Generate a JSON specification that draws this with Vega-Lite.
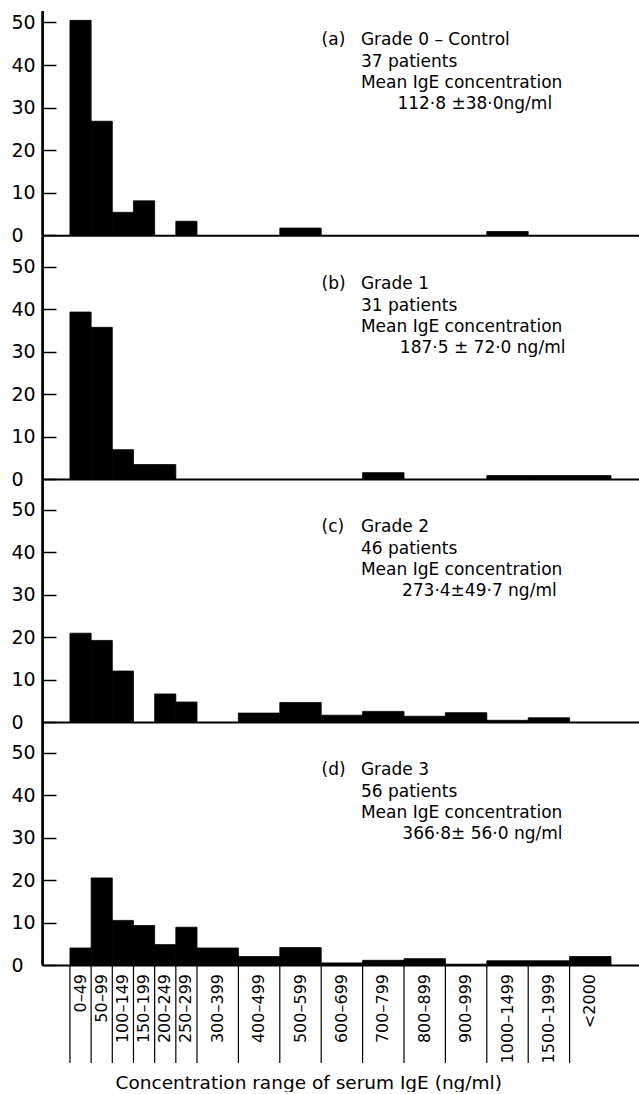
{
  "$schema": "https://vega.github.io/schema/vega-lite/v6.json",
  "padding": {"left": 11, "top": 10, "right": 0, "bottom": 0},
  "spacing": 0,
  "bounds": "flush",
  "config": {
    "view": {"stroke": null},
    "axis": {"grid": false},
    "text": {"font": "DejaVu Sans", "color": "black"}
  },
  "datasets": {
    "bins": [
      {"grade": "a", "range": "0–49", "lo": 0, "hi": 50, "pct": 50.5},
      {"grade": "a", "range": "50–99", "lo": 50, "hi": 100, "pct": 26.8},
      {"grade": "a", "range": "100–149", "lo": 100, "hi": 150, "pct": 5.4},
      {"grade": "a", "range": "150–199", "lo": 150, "hi": 200, "pct": 8.1},
      {"grade": "a", "range": "250–299", "lo": 250, "hi": 300, "pct": 3.3},
      {"grade": "a", "range": "500–599", "lo": 500, "hi": 600, "pct": 1.7},
      {"grade": "a", "range": "1000–1499", "lo": 1000, "hi": 1500, "pct": 0.9},
      {"grade": "b", "range": "0–49", "lo": 0, "hi": 50, "pct": 39.3},
      {"grade": "b", "range": "50–99", "lo": 50, "hi": 100, "pct": 35.7},
      {"grade": "b", "range": "100–149", "lo": 100, "hi": 150, "pct": 6.9},
      {"grade": "b", "range": "150–199", "lo": 150, "hi": 200, "pct": 3.4},
      {"grade": "b", "range": "200–249", "lo": 200, "hi": 250, "pct": 3.4},
      {"grade": "b", "range": "700–799", "lo": 700, "hi": 800, "pct": 1.5},
      {"grade": "b", "range": "1000–1499", "lo": 1000, "hi": 1500, "pct": 0.8},
      {"grade": "b", "range": "1500–1999", "lo": 1500, "hi": 2000, "pct": 0.8},
      {"grade": "b", "range": "<2000", "lo": 2000, "hi": 2500, "pct": 0.8},
      {"grade": "c", "range": "0–49", "lo": 0, "hi": 50, "pct": 20.9},
      {"grade": "c", "range": "50–99", "lo": 50, "hi": 100, "pct": 19.2},
      {"grade": "c", "range": "100–149", "lo": 100, "hi": 150, "pct": 12.0},
      {"grade": "c", "range": "200–249", "lo": 200, "hi": 250, "pct": 6.6},
      {"grade": "c", "range": "250–299", "lo": 250, "hi": 300, "pct": 4.7},
      {"grade": "c", "range": "400–499", "lo": 400, "hi": 500, "pct": 2.1},
      {"grade": "c", "range": "500–599", "lo": 500, "hi": 600, "pct": 4.6},
      {"grade": "c", "range": "600–699", "lo": 600, "hi": 700, "pct": 1.6},
      {"grade": "c", "range": "700–799", "lo": 700, "hi": 800, "pct": 2.5},
      {"grade": "c", "range": "800–899", "lo": 800, "hi": 900, "pct": 1.35},
      {"grade": "c", "range": "900–999", "lo": 900, "hi": 1000, "pct": 2.2},
      {"grade": "c", "range": "1000–1499", "lo": 1000, "hi": 1500, "pct": 0.4},
      {"grade": "c", "range": "1500–1999", "lo": 1500, "hi": 2000, "pct": 1.0},
      {"grade": "d", "range": "0–49", "lo": 0, "hi": 50, "pct": 4.0},
      {"grade": "d", "range": "50–99", "lo": 50, "hi": 100, "pct": 20.5},
      {"grade": "d", "range": "100–149", "lo": 100, "hi": 150, "pct": 10.5},
      {"grade": "d", "range": "150–199", "lo": 150, "hi": 200, "pct": 9.3},
      {"grade": "d", "range": "200–249", "lo": 200, "hi": 250, "pct": 4.8},
      {"grade": "d", "range": "250–299", "lo": 250, "hi": 300, "pct": 8.9},
      {"grade": "d", "range": "300–399", "lo": 300, "hi": 400, "pct": 4.0},
      {"grade": "d", "range": "400–499", "lo": 400, "hi": 500, "pct": 2.0},
      {"grade": "d", "range": "500–599", "lo": 500, "hi": 600, "pct": 4.1},
      {"grade": "d", "range": "600–699", "lo": 600, "hi": 700, "pct": 0.5},
      {"grade": "d", "range": "700–799", "lo": 700, "hi": 800, "pct": 1.1},
      {"grade": "d", "range": "800–899", "lo": 800, "hi": 900, "pct": 1.5},
      {"grade": "d", "range": "900–999", "lo": 900, "hi": 1000, "pct": 0.2},
      {"grade": "d", "range": "1000–1499", "lo": 1000, "hi": 1500, "pct": 1.0},
      {"grade": "d", "range": "1500–1999", "lo": 1500, "hi": 2000, "pct": 1.0},
      {"grade": "d", "range": "<2000", "lo": 2000, "hi": 2500, "pct": 2.0}
    ],
    "ranges": [
      {"range": "0–49", "lo": 0, "hi": 50},
      {"range": "50–99", "lo": 50, "hi": 100},
      {"range": "100–149", "lo": 100, "hi": 150},
      {"range": "150–199", "lo": 150, "hi": 200},
      {"range": "200–249", "lo": 200, "hi": 250},
      {"range": "250–299", "lo": 250, "hi": 300},
      {"range": "300–399", "lo": 300, "hi": 400},
      {"range": "400–499", "lo": 400, "hi": 500},
      {"range": "500–599", "lo": 500, "hi": 600},
      {"range": "600–699", "lo": 600, "hi": 700},
      {"range": "700–799", "lo": 700, "hi": 800},
      {"range": "800–899", "lo": 800, "hi": 900},
      {"range": "900–999", "lo": 900, "hi": 1000},
      {"range": "1000–1499", "lo": 1000, "hi": 1500},
      {"range": "1500–1999", "lo": 1500, "hi": 2000},
      {"range": "<2000", "lo": 2000, "hi": 2500}
    ],
    "notes": [
      {"grade": "a", "tag": "(a)", "lines": ["Grade 0 – Control", "37 patients", "Mean IgE concentration"], "mean": "112·8 ±38·0ng/ml"},
      {"grade": "b", "tag": "(b)", "lines": ["Grade 1", "31 patients", "Mean IgE concentration"], "mean": "187·5 ± 72·0 ng/ml"},
      {"grade": "c", "tag": "(c)", "lines": ["Grade 2", "46 patients", "Mean IgE concentration"], "mean": "273·4±49·7 ng/ml"},
      {"grade": "d", "tag": "(d)", "lines": ["Grade 3", "56 patients", "Mean IgE concentration"], "mean": "366·8± 56·0 ng/ml"}
    ]
  },
  "vconcat": [
    {
      "width": 597, "height": 224.3,
      "layer": [
        {"data": {"name": "bins"}, "transform": [{"filter": "datum.grade == 'a'"}],
         "mark": {"type": "bar", "color": "black", "stroke": "black", "strokeWidth": 0.8},
         "encoding": {
           "x": {"field": "lo", "type": "quantitative", "scale": {"domain": [-66, 300, 1000, 2000, 2500, 2838], "range": [0, 155, 444.8, 527.6, 569, 597], "nice": false, "zero": false},
                 "axis": {"domain": true, "domainColor": "black", "domainWidth": 2, "ticks": false, "labels": false, "title": null}},
           "x2": {"field": "hi"},
           "y": {"field": "pct", "type": "quantitative", "scale": {"domain": [0, 52.7], "nice": false},
                 "axis": {"values": [0, 10, 20, 30, 40, 50], "title": null, "domain": true, "domainColor": "black", "domainWidth": 2.5, "tickColor": "black", "tickWidth": 1.5, "tickSize": -14, "labelPadding": 45, "labelAlign": "left", "labelFont": "DejaVu Sans", "labelFontSize": 19, "labelColor": "black"}},
           "y2": {"datum": 0}
         }},
        {"data": {"values": [{}]}, "mark": {"type": "rule", "color": "black", "strokeWidth": 2},
         "encoding": {"x": {"datum": -64, "type": "quantitative"}}},
        {"data": {"name": "notes"}, "transform": [{"filter": "datum.grade == 'a'"}],
         "mark": {"type": "text", "align": "left", "baseline": "top", "fontSize": 17},
         "encoding": {"x": {"datum": 601, "type": "quantitative"}, "y": {"datum": 47.7, "type": "quantitative"}, "text": {"field": "tag"}}},
        {"data": {"name": "notes"}, "transform": [{"filter": "datum.grade == 'a'"}],
         "mark": {"type": "text", "align": "left", "baseline": "top", "fontSize": 17, "lineHeight": 21.3},
         "encoding": {"x": {"datum": 696, "type": "quantitative"}, "y": {"datum": 47.7, "type": "quantitative"}, "text": {"field": "lines"}}},
        {"data": {"name": "notes"}, "transform": [{"filter": "datum.grade == 'a'"}],
         "mark": {"type": "text", "align": "left", "baseline": "top", "fontSize": 17},
         "encoding": {"x": {"datum": 784, "type": "quantitative"}, "y": {"datum": 32.7, "type": "quantitative"}, "text": {"field": "mean"}}}
      ]
    },
    {
      "width": 597, "height": 243,
      "layer": [
        {"data": {"name": "bins"}, "transform": [{"filter": "datum.grade == 'b'"}],
         "mark": {"type": "bar", "color": "black", "stroke": "black", "strokeWidth": 0.8},
         "encoding": {
           "x": {"field": "lo", "type": "quantitative", "scale": {"domain": [-66, 300, 1000, 2000, 2500, 2838], "range": [0, 155, 444.8, 527.6, 569, 597], "nice": false, "zero": false},
                 "axis": {"domain": true, "domainColor": "black", "domainWidth": 2, "ticks": false, "labels": false, "title": null}},
           "x2": {"field": "hi"},
           "y": {"field": "pct", "type": "quantitative", "scale": {"domain": [0, 57.2], "nice": false},
                 "axis": {"values": [0, 10, 20, 30, 40, 50], "title": null, "domain": true, "domainColor": "black", "domainWidth": 2.5, "tickColor": "black", "tickWidth": 1.5, "tickSize": -14, "labelPadding": 45, "labelAlign": "left", "labelFont": "DejaVu Sans", "labelFontSize": 19, "labelColor": "black"}},
           "y2": {"datum": 0}
         }},
        {"data": {"values": [{}]}, "mark": {"type": "rule", "color": "black", "strokeWidth": 2},
         "encoding": {"x": {"datum": -64, "type": "quantitative"}}},
        {"data": {"name": "notes"}, "transform": [{"filter": "datum.grade == 'b'"}],
         "mark": {"type": "text", "align": "left", "baseline": "top", "fontSize": 17},
         "encoding": {"x": {"datum": 601, "type": "quantitative"}, "y": {"datum": 47.7, "type": "quantitative"}, "text": {"field": "tag"}}},
        {"data": {"name": "notes"}, "transform": [{"filter": "datum.grade == 'b'"}],
         "mark": {"type": "text", "align": "left", "baseline": "top", "fontSize": 17, "lineHeight": 21.3},
         "encoding": {"x": {"datum": 696, "type": "quantitative"}, "y": {"datum": 47.7, "type": "quantitative"}, "text": {"field": "lines"}}},
        {"data": {"name": "notes"}, "transform": [{"filter": "datum.grade == 'b'"}],
         "mark": {"type": "text", "align": "left", "baseline": "top", "fontSize": 17},
         "encoding": {"x": {"datum": 790, "type": "quantitative"}, "y": {"datum": 32.7, "type": "quantitative"}, "text": {"field": "mean"}}}
      ]
    },
    {
      "width": 597, "height": 243,
      "layer": [
        {"data": {"name": "bins"}, "transform": [{"filter": "datum.grade == 'c'"}],
         "mark": {"type": "bar", "color": "black", "stroke": "black", "strokeWidth": 0.8},
         "encoding": {
           "x": {"field": "lo", "type": "quantitative", "scale": {"domain": [-66, 300, 1000, 2000, 2500, 2838], "range": [0, 155, 444.8, 527.6, 569, 597], "nice": false, "zero": false},
                 "axis": {"domain": true, "domainColor": "black", "domainWidth": 2, "ticks": false, "labels": false, "title": null}},
           "x2": {"field": "hi"},
           "y": {"field": "pct", "type": "quantitative", "scale": {"domain": [0, 57.2], "nice": false},
                 "axis": {"values": [0, 10, 20, 30, 40, 50], "title": null, "domain": true, "domainColor": "black", "domainWidth": 2.5, "tickColor": "black", "tickWidth": 1.5, "tickSize": -14, "labelPadding": 45, "labelAlign": "left", "labelFont": "DejaVu Sans", "labelFontSize": 19, "labelColor": "black"}},
           "y2": {"datum": 0}
         }},
        {"data": {"values": [{}]}, "mark": {"type": "rule", "color": "black", "strokeWidth": 2},
         "encoding": {"x": {"datum": -64, "type": "quantitative"}}},
        {"data": {"name": "notes"}, "transform": [{"filter": "datum.grade == 'c'"}],
         "mark": {"type": "text", "align": "left", "baseline": "top", "fontSize": 17},
         "encoding": {"x": {"datum": 601, "type": "quantitative"}, "y": {"datum": 47.7, "type": "quantitative"}, "text": {"field": "tag"}}},
        {"data": {"name": "notes"}, "transform": [{"filter": "datum.grade == 'c'"}],
         "mark": {"type": "text", "align": "left", "baseline": "top", "fontSize": 17, "lineHeight": 21.3},
         "encoding": {"x": {"datum": 696, "type": "quantitative"}, "y": {"datum": 47.7, "type": "quantitative"}, "text": {"field": "lines"}}},
        {"data": {"name": "notes"}, "transform": [{"filter": "datum.grade == 'c'"}],
         "mark": {"type": "text", "align": "left", "baseline": "top", "fontSize": 17},
         "encoding": {"x": {"datum": 795, "type": "quantitative"}, "y": {"datum": 32.7, "type": "quantitative"}, "text": {"field": "mean"}}}
      ]
    },
    {
      "width": 597, "height": 243,
      "layer": [
        {"data": {"name": "bins"}, "transform": [{"filter": "datum.grade == 'd'"}],
         "mark": {"type": "bar", "color": "black", "stroke": "black", "strokeWidth": 0.8},
         "encoding": {
           "x": {"field": "lo", "type": "quantitative", "scale": {"domain": [-66, 300, 1000, 2000, 2500, 2838], "range": [0, 155, 444.8, 527.6, 569, 597], "nice": false, "zero": false},
                 "axis": {"domain": true, "domainColor": "black", "domainWidth": 2, "ticks": false, "labels": false, "title": null}},
           "x2": {"field": "hi"},
           "y": {"field": "pct", "type": "quantitative", "scale": {"domain": [0, 57.2], "nice": false},
                 "axis": {"values": [0, 10, 20, 30, 40, 50], "title": null, "domain": true, "domainColor": "black", "domainWidth": 2.5, "tickColor": "black", "tickWidth": 1.5, "tickSize": -14, "labelPadding": 45, "labelAlign": "left", "labelFont": "DejaVu Sans", "labelFontSize": 19, "labelColor": "black"}},
           "y2": {"datum": 0}
         }},
        {"data": {"values": [{}]}, "mark": {"type": "rule", "color": "black", "strokeWidth": 2},
         "encoding": {"x": {"datum": -64, "type": "quantitative"}}},
        {"data": {"name": "notes"}, "transform": [{"filter": "datum.grade == 'd'"}],
         "mark": {"type": "text", "align": "left", "baseline": "top", "fontSize": 17},
         "encoding": {"x": {"datum": 601, "type": "quantitative"}, "y": {"datum": 47.7, "type": "quantitative"}, "text": {"field": "tag"}}},
        {"data": {"name": "notes"}, "transform": [{"filter": "datum.grade == 'd'"}],
         "mark": {"type": "text", "align": "left", "baseline": "top", "fontSize": 17, "lineHeight": 21.3},
         "encoding": {"x": {"datum": 696, "type": "quantitative"}, "y": {"datum": 47.7, "type": "quantitative"}, "text": {"field": "lines"}}},
        {"data": {"name": "notes"}, "transform": [{"filter": "datum.grade == 'd'"}],
         "mark": {"type": "text", "align": "left", "baseline": "top", "fontSize": 17},
         "encoding": {"x": {"datum": 796, "type": "quantitative"}, "y": {"datum": 32.7, "type": "quantitative"}, "text": {"field": "mean"}}}
      ]
    },
    {
      "width": 597, "height": 98,
      "data": {"name": "ranges"},
      "layer": [
        {"mark": {"type": "rule", "color": "black", "strokeWidth": 1.2},
         "encoding": {
           "x": {"field": "lo", "type": "quantitative", "scale": {"domain": [-66, 300, 1000, 2000, 2500, 2838], "range": [0, 155, 444.8, 527.6, 569, 597], "nice": false, "zero": false},
                 "axis": {"domain": false, "ticks": false, "labels": false, "title": "Concentration range of serum IgE (ng/ml)", "titleFont": "DejaVu Sans", "titleFontSize": 18.5, "titleFontWeight": "normal", "titleColor": "black", "titlePadding": 10, "titleX": 73, "titleAlign": "left"}}
         }},
        {"transform": [{"calculate": "(datum.lo + datum.hi) / 2", "as": "mid"}],
         "mark": {"type": "text", "angle": 270, "align": "right", "baseline": "middle", "fontSize": 16},
         "encoding": {
           "x": {"field": "mid", "type": "quantitative"},
           "y": {"datum": 1, "type": "quantitative", "scale": {"domain": [0, 1]}, "axis": null},
           "yOffset": {"value": 9},
           "text": {"field": "range"}
         }}
      ]
    }
  ]
}
